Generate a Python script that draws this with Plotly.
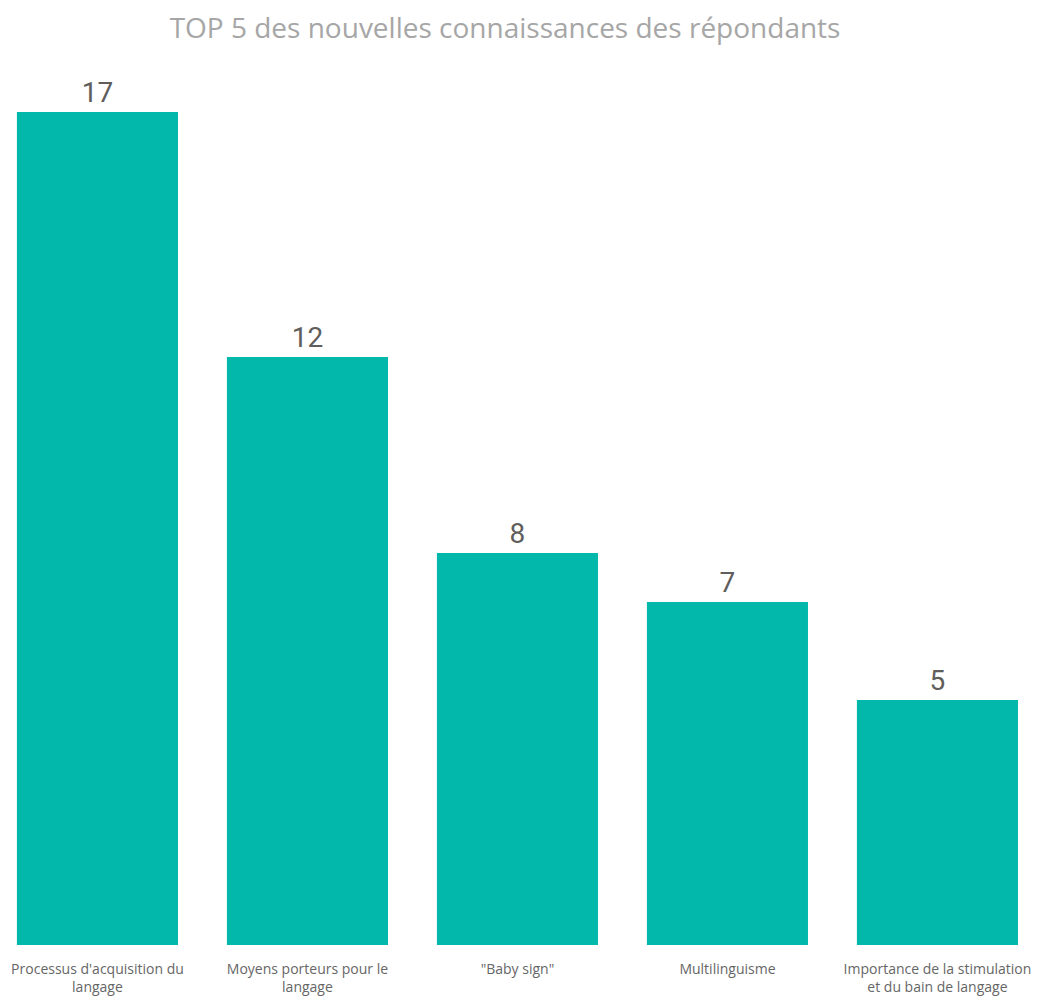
import plotly.graph_objects as go

categories = [
    "Processus d'acquisition du<br>langage",
    "Moyens porteurs pour le<br>langage",
    "\"Baby sign\"",
    "Multilinguisme",
    "Importance de la stimulation<br>et du bain de langage",
]
values = [17, 12, 8, 7, 5]

fig = go.Figure(go.Bar(
    x=list(range(len(categories))),
    y=values,
    marker=dict(color="#01B8AA", line=dict(width=0)),
    text=[str(v) for v in values],
    textposition="outside",
    textfont=dict(family="Roboto", size=28, color="#605E5C"),
    cliponaxis=False,
    width=0.767,
))

fig.update_layout(
    width=1042,
    height=1001,
    title=dict(
        text="TOP 5 des nouvelles connaissances des répondants",
        x=0.477, xanchor="center", y=0.98, yanchor="middle",
        font=dict(family="Open Sans", size=28, color="#A6A6A6"),
    ),
    margin=dict(l=0, r=0, t=55, b=64),
    plot_bgcolor="white",
    paper_bgcolor="white",
    showlegend=False,
)

fig.update_xaxes(
    tickmode="array",
    tickvals=list(range(len(categories))),
    ticktext=categories,
    range=[-0.426, 4.536],
    showgrid=False, zeroline=False, showline=False,
    ticklabelstandoff=14,
    tickfont=dict(family="Open Sans", size=14, color="#666666"),
)
fig.update_yaxes(
    range=[0, 18],
    visible=False,
)

fig.write_html("out.html")
